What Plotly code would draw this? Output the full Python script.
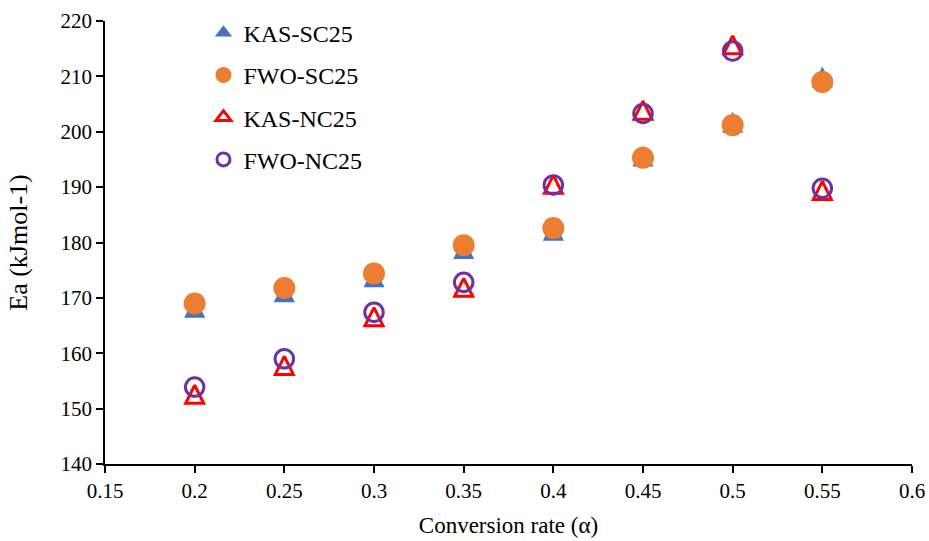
import plotly.graph_objects as go

# Data
conversion = [0.2, 0.25, 0.3, 0.35, 0.4, 0.45, 0.5, 0.55]
kas_sc25 = [168.3, 171.1, 173.8, 178.9, 182.2, 195.6, 201.7, 209.9]
fwo_sc25 = [169.0, 171.8, 174.4, 179.5, 182.6, 195.3, 201.2, 209.0]
kas_nc25 = [152.6, 157.8, 166.6, 171.9, 190.5, 203.9, 215.7, 189.4]
fwo_nc25 = [153.9, 159.0, 167.4, 172.8, 190.4, 203.3, 214.6, 189.8]

series_names = ["KAS-SC25", "FWO-SC25", "KAS-NC25", "FWO-NC25"]
x_ticks = [0.15, 0.2, 0.25, 0.3, 0.35, 0.4, 0.45, 0.5, 0.55, 0.6]
y_ticks = [140, 150, 160, 170, 180, 190, 200, 210, 220]

FONT = "Liberation Serif"

# marker styles (plot markers, legend markers)
styles = [
    (dict(symbol="arrow-down", angle=180, standoff=10.5, size=21,
          color="#4472C4", line=dict(width=0)),
     dict(symbol="triangle-up", size=15,
          color="#4472C4", line=dict(width=0))),
    (dict(symbol="circle", size=22, color="#ED7D31", line=dict(width=0)),
     dict(symbol="circle", size=16, color="#ED7D31", line=dict(width=0))),
    (dict(symbol="arrow-down-open", angle=180, standoff=9, size=18,
          color="#FF0000", line=dict(width=3, color="#FF0000")),
     dict(symbol="triangle-up-open", size=13,
          color="#FF0000", line=dict(width=3, color="#FF0000"))),
    (dict(symbol="circle-open", size=18.5, color="#7030A0",
          line=dict(width=3, color="#7030A0")),
     dict(symbol="circle-open", size=13, color="#7030A0",
          line=dict(width=3, color="#7030A0"))),
]
values = [kas_sc25, fwo_sc25, kas_nc25, fwo_nc25]

fig = go.Figure()
for name, vals, (pm, lm) in zip(series_names, values, styles):
    fig.add_trace(go.Scatter(x=conversion, y=vals, mode="markers", name=name,
                             marker=pm, showlegend=False, legendgroup=name))
for name, (pm, lm) in zip(series_names, styles):
    fig.add_trace(go.Scatter(x=[None], y=[None], mode="markers", name=name,
                             marker=lm, showlegend=True, legendgroup=name))

axis_common = dict(
    showline=True, linecolor="black", linewidth=1.5,
    ticks="outside", ticklen=7, tickwidth=1.5, tickcolor="black",
    showgrid=False, zeroline=False, mirror=False, automargin=False,
    tickfont=dict(family=FONT, size=21, color="black"),
)

fig.update_layout(
    width=929, height=541,
    margin=dict(l=105, r=17, t=20, b=77),
    paper_bgcolor="white", plot_bgcolor="white",
    font=dict(family=FONT, color="black"),
    xaxis=dict(range=[0.15, 0.6], tickvals=x_ticks,
               ticktext=[f"{v:g}" for v in x_ticks],
               title=dict(text="Conversion rate (α)",
                          font=dict(family=FONT, size=23, color="black"),
                          standoff=15),
               **axis_common),
    yaxis=dict(range=[140, 220], tickvals=y_ticks,
               title=dict(text="Ea (kJmol-1)",
                          font=dict(family=FONT, size=26, color="black"),
                          standoff=25),
               **axis_common),
    legend=dict(x=0.122, y=1.021, xanchor="left", yanchor="top",
                font=dict(family=FONT, size=24, color="black"),
                tracegroupgap=8, bgcolor="rgba(0,0,0,0)"),
)

fig.write_html("out.html")
